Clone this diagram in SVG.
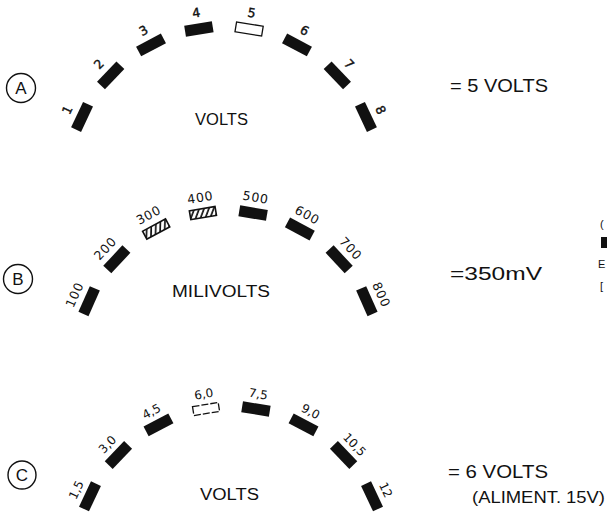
<svg xmlns="http://www.w3.org/2000/svg" width="607" height="512" viewBox="0 0 607 512">
<defs>
<pattern id="hatch" patternUnits="userSpaceOnUse" width="4.5" height="4.5" patternTransform="rotate(30)">
<line x1="1" y1="0" x2="1" y2="4.5" stroke="#111" stroke-width="1.7"/>
</pattern>
</defs>
<style>
.seg{fill:#111}
.open{fill:#fff;stroke:#111;stroke-width:1.3}
.dash{fill:#fff;stroke:#111;stroke-width:1.3;stroke-dasharray:7 2}
.hat{fill:url(#hatch);stroke:#111;stroke-width:1.6}
.lab{font-family:"DejaVu Sans","Liberation Sans",sans-serif;text-anchor:middle;fill:#111}
.la{font-size:12.5px;stroke:#111;stroke-width:0.4}
.lb{font-size:12.5px;letter-spacing:0.8px}
.lc{font-size:12px}
.ttl{font-family:"Liberation Sans",Arial,sans-serif;font-size:16px;fill:#111;text-anchor:middle}
.side{font-family:"Liberation Sans",Arial,sans-serif;font-size:19px;fill:#111}
.edge{font-family:"Liberation Sans",Arial,sans-serif;font-size:11px;fill:#111}
.circ{fill:none;stroke:#111;stroke-width:1.4}
.cl{font-family:"Liberation Sans",Arial,sans-serif;font-size:17px;fill:#111;text-anchor:middle}
</style>
<rect width="607" height="512" fill="#fff"/>

<!-- Panel A -->
<g id="panelA">
<g id="labelA"><circle class="circ" cx="21" cy="88" r="14.5"/><text class="cl" x="21" y="94">A</text></g>
<g id="A-1" transform="rotate(-64.7 224 184)"><rect class="seg" x="210" y="21.5" width="28" height="11"/><text class="lab la" x="224" y="15">1</text></g>
<g id="A-2" transform="rotate(-46.2 224 184)"><rect class="seg" x="210" y="21.5" width="28" height="11"/><text class="lab la" x="224" y="15">2</text></g>
<g id="A-3" transform="rotate(-27.7 224 184)"><rect class="seg" x="210" y="21.5" width="28" height="11"/><text class="lab la" x="224" y="15">3</text></g>
<g id="A-4" transform="rotate(-9.2 224 184)"><rect class="seg" x="210" y="21.5" width="28" height="11"/><text class="lab la" x="224" y="15">4</text></g>
<g id="A-5" transform="rotate(9.2 224 184)"><rect class="open" x="210.5" y="22" width="27" height="10"/><text class="lab la" x="224" y="15">5</text></g>
<g id="A-6" transform="rotate(27.7 224 184)"><rect class="seg" x="210" y="21.5" width="28" height="11"/><text class="lab la" x="224" y="15">6</text></g>
<g id="A-7" transform="rotate(46.2 224 184)"><rect class="seg" x="210" y="21.5" width="28" height="11"/><text class="lab la" x="224" y="15">7</text></g>
<g id="A-8" transform="rotate(64.7 224 184)"><rect class="seg" x="210" y="21.5" width="28" height="11"/><text class="lab la" x="224" y="15">8</text></g>
<text id="A-unit" class="ttl" x="221.5" y="125" textLength="53" lengthAdjust="spacingAndGlyphs">VOLTS</text>
<text id="A-value" class="side" x="450" y="92" textLength="98" lengthAdjust="spacingAndGlyphs">= 5 VOLTS</text>
</g>

<!-- Panel B -->
<g id="panelB">
<g id="labelB"><circle class="circ" cx="18" cy="279" r="14.5"/><text class="cl" x="18" y="285">B</text></g>
<g id="B-100" transform="rotate(-66 228 363)"><rect class="seg" x="214" y="205.5" width="28" height="11"/><text class="lab lb" x="228" y="199.5">100</text></g>
<g id="B-200" transform="rotate(-47 228 363)"><rect class="seg" x="214" y="205.5" width="28" height="11"/><text class="lab lb" x="228" y="199.5">200</text></g>
<g id="B-300" transform="rotate(-28.2 228 363)"><rect class="hat" x="215" y="206.5" width="26" height="9"/><text class="lab lb" x="228" y="199.5">300</text></g>
<g id="B-400" transform="rotate(-9.5 228 363)"><rect class="hat" x="215" y="206.5" width="26" height="9"/><text class="lab lb" x="228" y="199.5">400</text></g>
<g id="B-500" transform="rotate(9.5 228 363)"><rect class="seg" x="214" y="205.5" width="28" height="11"/><text class="lab lb" x="228" y="199.5">500</text></g>
<g id="B-600" transform="rotate(28.2 228 363)"><rect class="seg" x="214" y="205.5" width="28" height="11"/><text class="lab lb" x="228" y="199.5">600</text></g>
<g id="B-700" transform="rotate(47 228 363)"><rect class="seg" x="214" y="205.5" width="28" height="11"/><text class="lab lb" x="228" y="199.5">700</text></g>
<g id="B-800" transform="rotate(66 228 363)"><rect class="seg" x="214" y="205.5" width="28" height="11"/><text class="lab lb" x="228" y="199.5">800</text></g>
<text id="B-unit" class="ttl" x="221" y="297" textLength="98" lengthAdjust="spacingAndGlyphs">MILIVOLTS</text>
<text id="B-value" class="side" x="450" y="280" textLength="92" lengthAdjust="spacingAndGlyphs">=350mV</text>
</g>

<!-- Panel C -->
<g id="panelC">
<g id="labelC"><circle class="circ" cx="22" cy="475" r="14"/><text class="cl" x="22" y="481">C</text></g>
<g id="C-1_5" transform="rotate(-64.7 231 563)"><rect class="seg" x="217" y="401.5" width="28" height="11"/><text class="lab lc" x="231" y="396">1,5</text></g>
<g id="C-3_0" transform="rotate(-46.2 231 563)"><rect class="seg" x="217" y="401.5" width="28" height="11"/><text class="lab lc" x="231" y="396">3,0</text></g>
<g id="C-4_5" transform="rotate(-27.7 231 563)"><rect class="seg" x="217" y="401.5" width="28" height="11"/><text class="lab lc" x="231" y="396">4,5</text></g>
<g id="C-6_0" transform="rotate(-9.2 231 563)"><rect class="dash" x="218" y="402.5" width="26" height="9"/><text class="lab lc" x="231" y="396">6,0</text></g>
<g id="C-7_5" transform="rotate(9.2 231 563)"><rect class="seg" x="217" y="401.5" width="28" height="11"/><text class="lab lc" x="231" y="396">7,5</text></g>
<g id="C-9_0" transform="rotate(27.7 231 563)"><rect class="seg" x="217" y="401.5" width="28" height="11"/><text class="lab lc" x="231" y="396">9,0</text></g>
<g id="C-10_5" transform="rotate(46.2 231 563)"><rect class="seg" x="217" y="401.5" width="28" height="11"/><text class="lab lc" x="231" y="396">10,5</text></g>
<g id="C-12" transform="rotate(64.7 231 563)"><rect class="seg" x="217" y="401.5" width="28" height="11"/><text class="lab lc" x="231" y="396">12</text></g>
<text id="C-unit" class="ttl" x="229.5" y="500" textLength="59" lengthAdjust="spacingAndGlyphs">VOLTS</text>
<text id="C-value" class="side" x="448" y="478" textLength="100" lengthAdjust="spacingAndGlyphs">= 6 VOLTS</text>
<text id="C-note" class="side" x="472" y="503" style="font-size:16px" textLength="133" lengthAdjust="spacingAndGlyphs">(ALIMENT. 15V)</text>
</g>

<!-- fragments at right edge -->
<g id="edge">
<text class="edge" x="600" y="228">(</text>
<rect class="seg" x="601" y="237" width="6" height="11"/>
<text class="edge" x="598" y="268">E</text>
<text class="edge" x="600" y="290">[</text>
</g>
</svg>
